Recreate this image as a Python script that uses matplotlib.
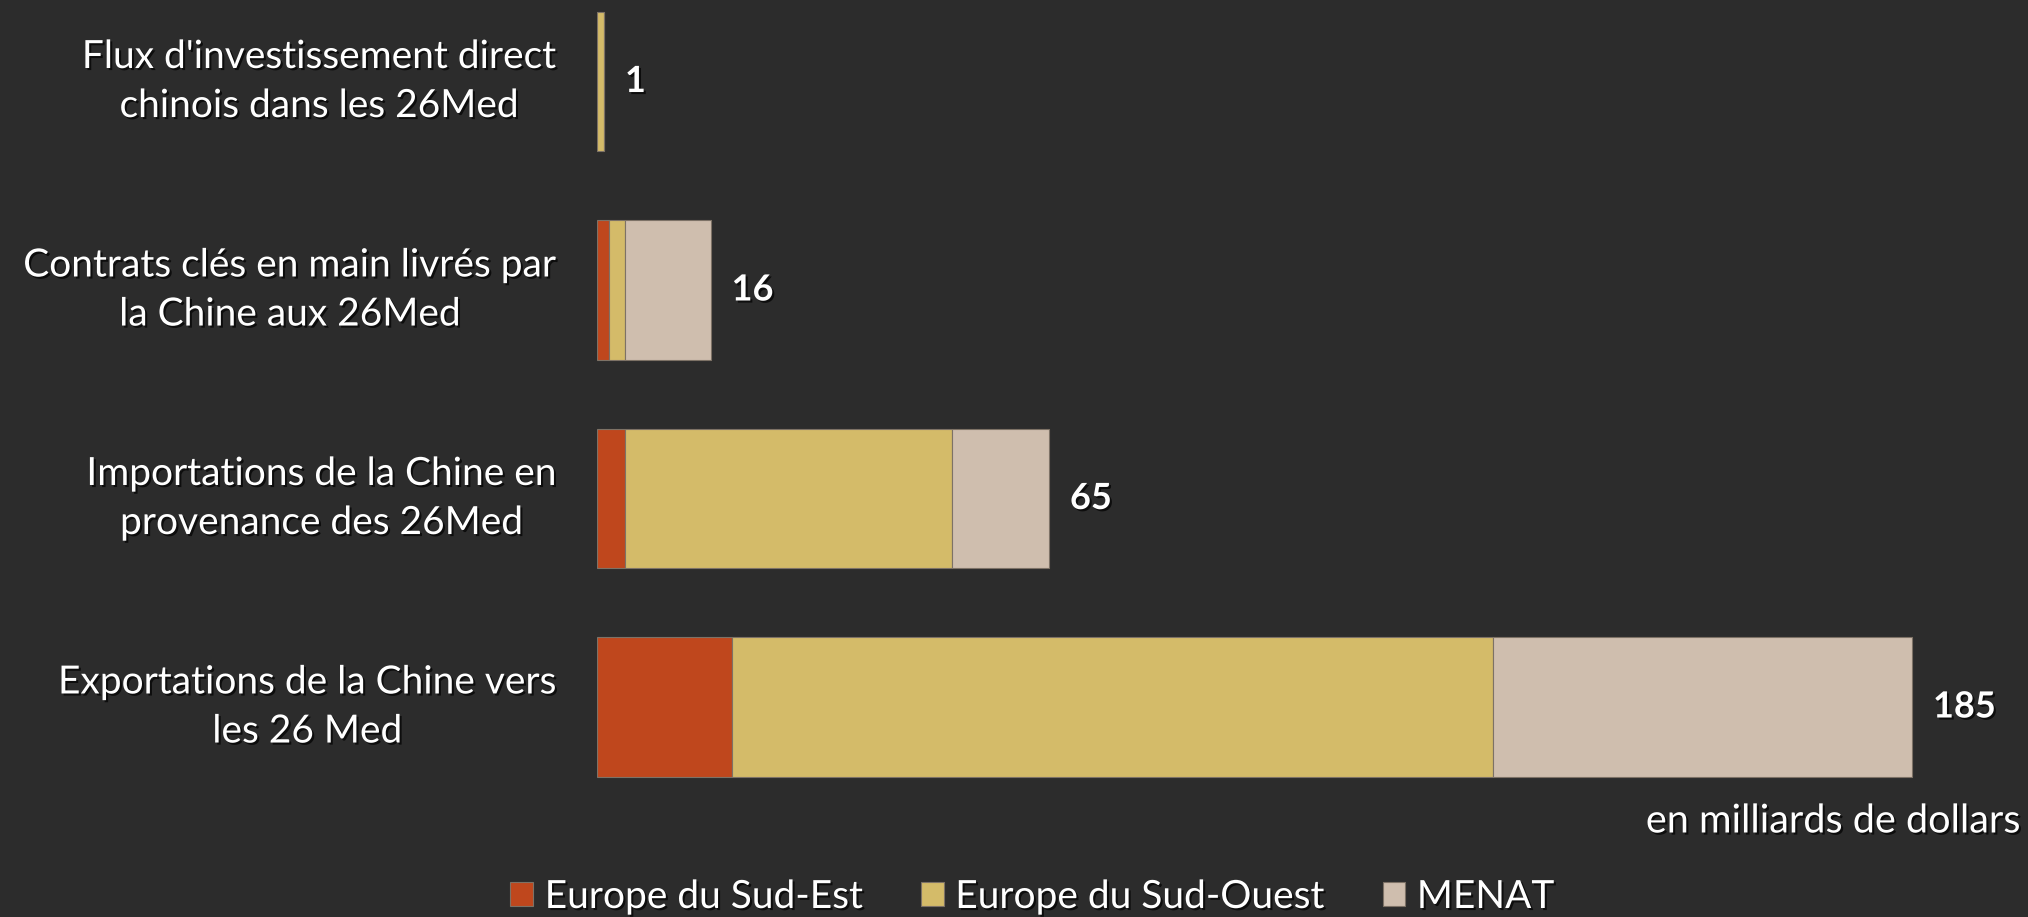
import matplotlib.pyplot as plt
import matplotlib.patheffects as pe

# données (en milliards de dollars)
categories = ["Flux d'investissement direct\nchinois dans les 26Med",
              "Contrats clés en main livrés par\nla Chine aux 26Med",
              "Importations de la Chine en\nprovenance des 26Med",
              "Exportations de la Chine vers\nles 26 Med"]
sud_est = [0.05, 1.7, 3.9, 19]
sud_ouest = [0.95, 2.3, 46.1, 107]
menat = [0.0, 12, 13.6, 59]
totaux = [1, 16, 65, 185]
series_labels = ["Europe du Sud-Est", "Europe du Sud-Ouest", "MENAT"]
colors = ["#bf471d", "#d4bb69", "#cfbeae"]

bg = "#2c2c2c"
plt.rcParams["font.family"] = ["Lato", "DejaVu Sans"]
shadow = [pe.SimplePatchShadow(offset=(1.5, -1.5), shadow_rgbFace="black", alpha=0.7),
          pe.Normal()]

fig = plt.figure(figsize=(20.28, 9.17), dpi=100, facecolor=bg)
ax = fig.add_axes([597 / 2028, 1 - 800 / 917, 1 - 597 / 2028, 800 / 917])
ax.set_facecolor(bg)

y = list(range(len(categories)))
left = [0] * len(categories)
for vals, lab, col in zip([sud_est, sud_ouest, menat], series_labels, colors):
    ax.barh(y, vals, left=left, height=0.667, color=col, label=lab,
            edgecolor="#7d7266", linewidth=0.8)
    left = [l + v for l, v in zip(left, vals)]

for yi, tot in zip(y, totaux):
    ax.annotate(str(tot), xy=(left[yi], yi), xytext=(15, 0), textcoords="offset points",
                va="center", ha="left", color="white", fontsize=26,
                fontweight="bold", path_effects=shadow)
    ax.annotate(categories[yi], xy=(0, yi), xytext=(-29, 0), textcoords="offset points",
                va="center", ha="right", multialignment="center", color="white",
                fontsize=28, linespacing=1.45, path_effects=shadow,
                annotation_clip=False)

ax.set_xlim(0, 201.3)
ax.set_ylim(3.446, -0.391)
ax.axis("off")

fig.text(2020 / 2028, 1 - 821 / 917, "en milliards de dollars", ha="right", va="center",
         color="white", fontsize=28.5, path_effects=shadow)

leg = fig.legend(loc="center", bbox_to_anchor=(0.509, 1 - 897 / 917), ncol=3,
                 frameon=False, fontsize=28, handlelength=0.58, handleheight=0.58,
                 handletextpad=0.3, columnspacing=1.5, labelcolor="white")
for t in leg.get_texts():
    t.set_path_effects(shadow)

plt.savefig("out.png", dpi=100, facecolor=bg)
plt.close()
